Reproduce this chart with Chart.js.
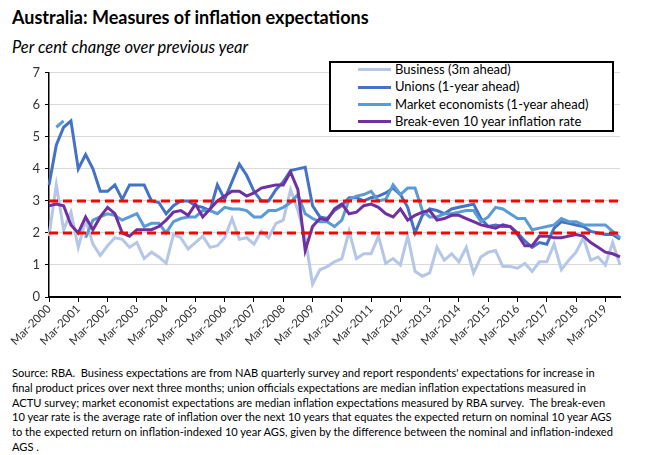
<!DOCTYPE html>
<html>
<head>
<meta charset="utf-8">
<script src="https://cdn.jsdelivr.net/npm/chart.js@4.4.1/dist/chart.umd.min.js"></script>
<style>
  body { margin: 0; width: 650px; height: 455px; background: #fff; font-family: Lato, sans-serif; color: #000; position: relative; overflow: hidden; }
  #title { position: absolute; left: 12px; top: 6px; font-size: 18px; font-weight: bold; }
  #subtitle { position: absolute; left: 12px; top: 37px; font-size: 16.5px; font-style: italic; }
  #wrap { position: absolute; left: 0; top: 60px; width: 650px; height: 300px; }
  #legend { position: absolute; left: 329px; top: 61px; width: 281px; height: 67px; border: 2px solid #000; background: #fff; }
  .item { position: absolute; left: 27px; line-height: 17px; font-size: 13px; white-space: nowrap; }
  .swatch { display: inline-block; width: 33px; height: 3px; vertical-align: middle; margin-right: 4px; position: relative; top: -1px; }
  #notes { position: absolute; left: 12px; top: 366px; font-size: 11.1px; line-height: 14.8px; white-space: nowrap; }
</style>
</head>
<body>
<div id="title">Australia: Measures of inflation expectations</div>
<div id="subtitle">Per cent change over previous year</div>
<div id="wrap"><canvas id="chartInflation"></canvas></div>
<div id="legend"></div>
<div id="notes">
Source: RBA.&nbsp; Business expectations are from NAB quarterly survey and report respondents' expectations for increase in<br>
final product prices over next three months; union officials expectations are median inflation expectations measured in<br>
ACTU survey; market economist expectations are median inflation expectations measured by RBA survey.&nbsp; The break-even<br>
10 year rate is the average rate of inflation over the next 10 years that equates the expected return on nominal 10 year AGS<br>
to the expected return on inflation-indexed 10 year AGS, given by the difference between the nominal and inflation-indexed<br>
AGS .
</div>
<script>
// Quarterly, Mar-2000 to Sep-2019
let months = ['Mar', 'Jun', 'Sep', 'Dec'];
let firstYear = 2000;
let lastYear = 2019;
let lastQuarter = 3;

let quarters = [];
for (let y = firstYear; y <= lastYear; y++) {
    months.forEach((m, q) => {
        if (y < lastYear || q < lastQuarter) quarters.push(m + '-' + y);
    });
}

let business = [1.9, 3.5, 2.1, 2.65, 1.55, 2.4, 1.65, 1.3, 1.6, 1.85,
    1.8, 1.55, 1.7, 1.2, 1.4, 1.25, 1.05, 1.95, 1.85, 1.5,
    1.7, 1.9, 1.55, 1.6, 1.85, 2.45, 1.8, 1.85, 1.65, 2.05,
    1.85, 2.3, 2.4, 3.35, 2.7, 1.85, 0.4, 0.85, 0.95, 1.1,
    1.2, 2.05, 1.2, 1.35, 1.35, 1.9, 1.05, 1.2, 1.0, 1.9,
    0.8, 0.65, 0.75, 1.55, 1.15, 1.35, 1.1, 1.55, 0.75, 1.25,
    1.4, 1.45, 0.95, 0.95, 0.9, 1.05, 0.8, 1.1, 1.1, 1.65,
    0.85, 1.15, 1.4, 1.85, 1.15, 1.25, 1.0, 1.7, 1.0];

let unions = [3.5, 4.75, 5.3, 5.5, 4.0, 4.45, 4.0, 3.3, 3.3, 3.5,
    3.05, 3.5, 3.5, 3.5, 3.0, 2.95, 2.6, 2.85, 3.0, 3.0,
    2.85, 2.8, 2.7, 3.5, 3.05, 3.6, 4.15, 3.8, 3.3, 3.0,
    3.0, 3.35, 3.6, 3.95, 4.0, 4.05, 2.85, 2.5, 2.45, 2.7,
    2.85, 3.1, 3.1, 3.0, 3.1, 3.15, 3.25, 3.4, 3.2, 2.8,
    2.0, 2.55, 2.75, 2.7, 2.6, 2.75, 2.8, 2.85, 2.9, 2.45,
    2.2, 2.25, 2.2, 2.2, 2.0, 1.75, 1.55, 1.7, 1.65, 2.15,
    2.35, 2.3, 2.25, 2.2, 2.05, 2.0, 1.95, 1.95, 1.8];

let economists = [null, 5.3, 5.5, null, null, 1.85, 2.4, 2.5, 2.6, 2.55,
    2.4, 2.5, 2.6, 2.2, 2.3, 2.3, 2.0, 2.35, 2.45, 2.5,
    2.5, 2.7, 2.7, 2.6, 2.8, 2.75, 2.75, 2.7, 2.5, 2.5,
    2.7, 2.7, 2.8, 2.95, 3.2, 2.6, 2.45, 2.35, 2.35, 2.2,
    2.4, 3.05, 3.15, 3.2, 3.3, 3.0, 3.05, 3.5, 3.2, 3.4,
    3.4, 2.7, 2.5, 2.5, 2.6, 2.6, 2.65, 2.7, 2.7, 2.35,
    2.5, 2.8, 2.75, 2.6, 2.45, 2.45, 2.1, 2.15, 2.2, 2.25,
    2.45, 2.35, 2.35, 2.25, 2.25, 2.25, 2.25, 2.05, 1.85];

let breakEven = [2.85, 2.9, 2.85, 2.25, 2.0, 2.5, 2.1, 2.5, 2.8, 2.6,
    2.0, 1.9, 2.1, 2.1, 2.1, 2.2, 2.4, 2.65, 2.7, 2.55,
    2.9, 2.5, 2.75, 3.0, 3.15, 3.3, 3.3, 3.15, 3.25, 3.4,
    3.45, 3.5, 3.5, 3.9, 3.35, 1.45, 2.2, 2.45, 2.4, 2.75,
    2.9, 2.6, 2.65, 2.85, 2.9, 2.8, 2.6, 2.5, 2.75, 2.4,
    2.55, 2.65, 2.7, 2.4, 2.45, 2.55, 2.55, 2.45, 2.35, 2.25,
    2.2, 2.15, 2.25, 2.2, 1.95, 1.6, 1.6, 1.9, 1.9, 1.85,
    1.85, 1.9, 1.95, 1.9, 1.7, 1.55, 1.4, 1.35, 1.25];

// RBA target band
let targetBand = [2, 3];

let series = [
    { label: 'Business (3m ahead)', data: business, color: '#b4c7e7' },
    { label: 'Unions (1-year ahead)', data: unions, color: '#4472c4' },
    { label: 'Market economists (1-year ahead)', data: economists, color: '#5b9bd5' },
    { label: 'Break-even 10 year inflation rate', data: breakEven, color: '#7030a0' }
];

// Légende dans un cadre
let legend = document.querySelector('#legend');
series.forEach((s, k) => {
    let item = document.createElement('div');
    item.className = 'item';
    item.style.top = (-2 + k * 17.4) + 'px';
    item.innerHTML = '<span class="swatch" style="background:' + s.color + '"></span>' + s.label;
    legend.appendChild(item);
});

let datasets = series.map((s, k) => ({
    label: s.label,
    data: s.data,
    borderColor: s.color,
    backgroundColor: s.color,
    borderWidth: 3,
    pointRadius: 0,
    tension: 0,
    spanGaps: false,
    order: 5 - k
}));

targetBand.forEach(v => {
    datasets.push({
        label: 'target ' + v,
        data: quarters.map(() => v),
        borderColor: '#ff0000',
        borderWidth: 3,
        borderDash: [9, 5],
        pointRadius: 0,
        order: 0
    });
});

let ctx = document.querySelector('#chartInflation').getContext('2d');
let chartInflation = new Chart(ctx, {
    type: 'line',
    data: { labels: quarters, datasets: datasets },
    options: {
        responsive: true,
        maintainAspectRatio: false,
        animation: false,
        layout: { padding: { left: 0, right: 30, top: 12, bottom: 0 } },
        plugins: { legend: { display: false }, tooltip: { enabled: false } },
        scales: {
            x: {
                ticks: {
                    autoSkip: false, minRotation: 45, maxRotation: 45,
                    color: '#333', font: { family: 'Lato', size: 11.5 }, padding: 0
                },
                grid: { drawOnChartArea: false, tickColor: '#000', tickLength: 5 },
                border: { color: '#000', width: 2 },
                afterBuildTicks: scale => { scale.ticks = scale.ticks.filter(t => t.value % 4 === 0); },
                afterFit: scale => { scale.height = 63; }
            },
            y: {
                min: 0, max: 7,
                ticks: { stepSize: 1, color: '#333', font: { family: 'Lato', size: 13 }, padding: 5 },
                grid: { color: '#d9d9d9', tickColor: '#000', tickLength: 4 },
                border: { color: '#000', width: 1.5 },
                afterFit: scale => { scale.width = 49; }
            }
        }
    }
});
</script>
</body>
</html>
